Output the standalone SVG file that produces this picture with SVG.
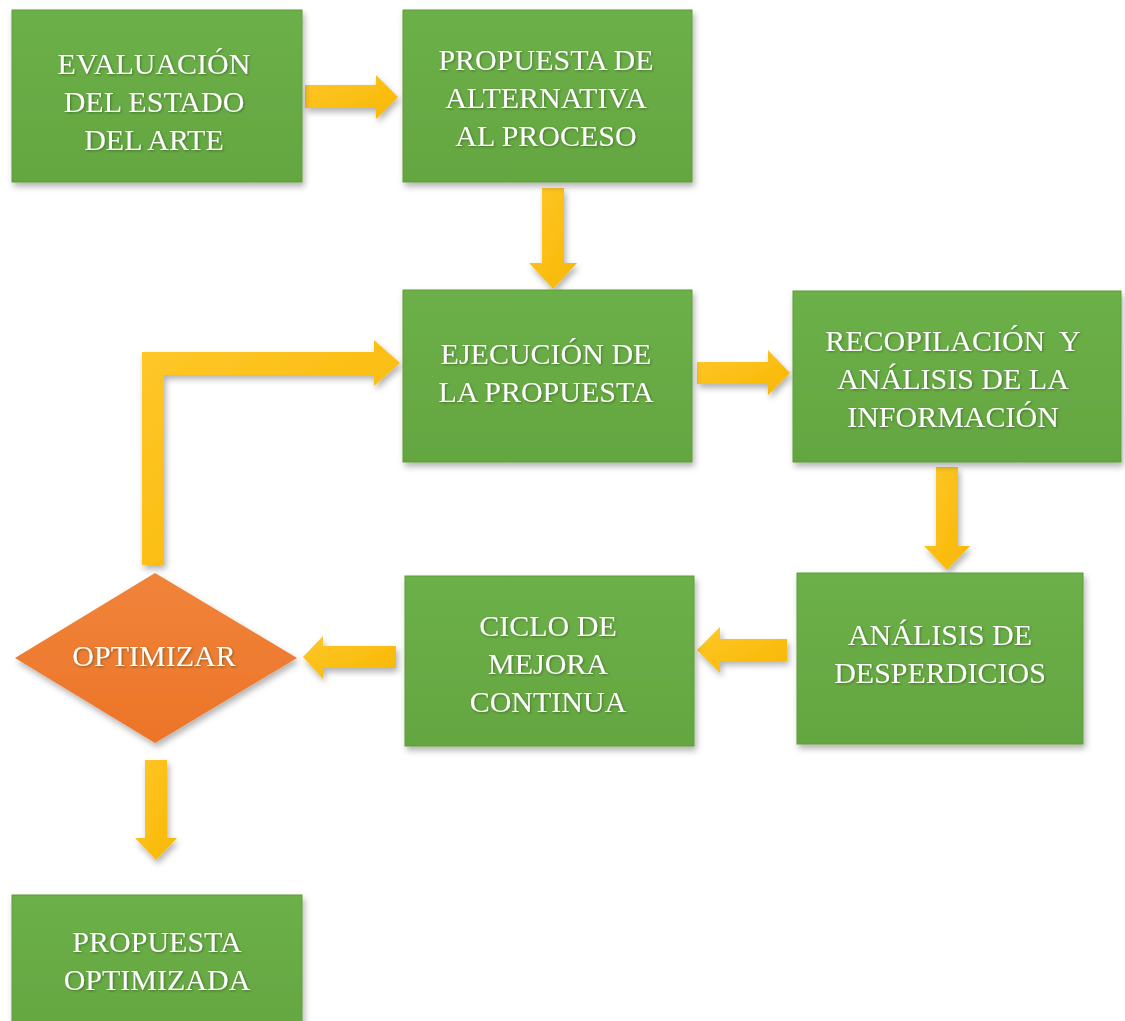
<svg xmlns="http://www.w3.org/2000/svg" width="1125" height="1021" viewBox="0 0 1125 1021">
<style>
.box{fill:url(#g);stroke:#5c9c3b;stroke-width:1}
.dia{fill:url(#o)}
.arr{fill:url(#y)}
.t{font-family:"Liberation Serif","Times New Roman",serif;font-size:30px;fill:#ffffff;text-anchor:middle;filter:url(#ts)}
</style>
<defs>
<linearGradient id="g" x1="0" y1="0" x2="0" y2="1">
<stop offset="0" stop-color="#6cb048"/>
<stop offset="1" stop-color="#64a641"/>
</linearGradient>
<linearGradient id="o" x1="0" y1="0" x2="0" y2="1">
<stop offset="0" stop-color="#f0843a"/>
<stop offset="1" stop-color="#ec7428"/>
</linearGradient>
<linearGradient id="y" x1="0" y1="0" x2="1" y2="1">
<stop offset="0" stop-color="#ffc72a"/>
<stop offset="1" stop-color="#f7b700"/>
</linearGradient>
<filter id="sh" x="-10%" y="-10%" width="125%" height="130%">
<feDropShadow dx="2" dy="4" stdDeviation="3" flood-color="#000" flood-opacity="0.3"/>
</filter>
<filter id="ts" x="-5%" y="-20%" width="110%" height="150%">
<feDropShadow dx="1" dy="1" stdDeviation="0.8" flood-color="#1f3a10" flood-opacity="0.5"/>
</filter>
</defs>
<rect width="1125" height="1021" fill="#ffffff"/>
<g id="connectors" filter="url(#sh)">
<polygon class="arr" points="305,85 376,85 376,75 398,97 376,119 376,108 305,108"/>
<polygon class="arr" points="542,188 564,188 564,263 577,263 553,289 529,263 542,263"/>
<polygon class="arr" points="697,362 768,362 768,350 790,373 768,395 768,384 697,384"/>
<polygon class="arr" points="936,467 958,467 958,546 970,546 947,570 924,546 936,546"/>
<polygon class="arr" points="787,639 720,639 720,627 697,650 720,673 720,661 787,661"/>
<polygon class="arr" points="396,646 323,646 323,636 303,657 323,679 323,668 396,668"/>
<polygon class="arr" points="142,565 142,352 374,352 374,340 400,363 374,386 374,375 164,375 164,565"/>
<polygon class="arr" points="145,760 167,760 167,838 177,838 156,860 135,838 145,838"/>
</g>
<g id="n1" filter="url(#sh)"><rect class="box" x="12" y="10" width="290" height="172"/></g>
<g id="n1t"><text class="t" x="154" y="74">EVALUACIÓN</text><text class="t" x="154" y="112">DEL ESTADO</text><text class="t" x="154" y="150">DEL ARTE</text></g>
<g id="n2" filter="url(#sh)"><rect class="box" x="403" y="10" width="289" height="172"/></g>
<g id="n2t"><text class="t" x="546" y="70">PROPUESTA DE</text><text class="t" x="546" y="108">ALTERNATIVA</text><text class="t" x="546" y="146">AL PROCESO</text></g>
<g id="n3" filter="url(#sh)"><rect class="box" x="403" y="290" width="289" height="172"/></g>
<g id="n3t"><text class="t" x="546" y="364">EJECUCIÓN DE</text><text class="t" x="546" y="402">LA PROPUESTA</text></g>
<g id="n4" filter="url(#sh)"><rect class="box" x="793" y="291" width="328" height="171"/></g>
<g id="n4t"><text class="t" x="953" y="351" style="white-space:pre">RECOPILACIÓN  Y</text><text class="t" x="953" y="389">ANÁLISIS DE LA</text><text class="t" x="953" y="427">INFORMACIÓN</text></g>
<g id="n5" filter="url(#sh)"><rect class="box" x="797" y="573" width="286" height="171"/></g>
<g id="n5t"><text class="t" x="940" y="645">ANÁLISIS DE</text><text class="t" x="940" y="683">DESPERDICIOS</text></g>
<g id="n6" filter="url(#sh)"><rect class="box" x="405" y="576" width="289" height="170"/></g>
<g id="n6t"><text class="t" x="548" y="636">CICLO DE</text><text class="t" x="548" y="674">MEJORA</text><text class="t" x="548" y="712">CONTINUA</text></g>
<g id="n7" filter="url(#sh)"><polygon class="dia" points="155,573 297,658 155,743 15,658"/></g>
<g id="n7t"><text class="t" x="154" y="666">OPTIMIZAR</text></g>
<g id="n8" filter="url(#sh)"><rect class="box" x="12" y="895" width="290" height="140"/></g>
<g id="n8t"><text class="t" x="157" y="952">PROPUESTA</text><text class="t" x="157" y="990">OPTIMIZADA</text></g>
</svg>
